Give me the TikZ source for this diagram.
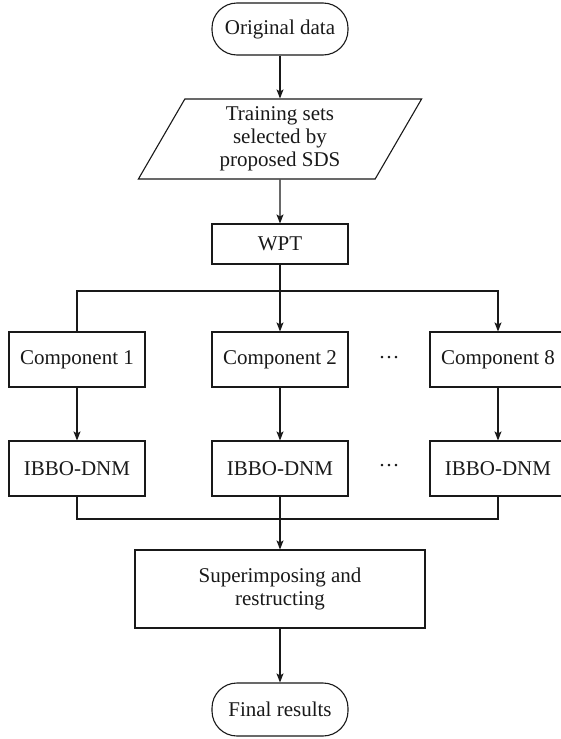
\documentclass[tikz,border=0pt]{standalone}
\usepackage{fontspec}
\setmainfont{Liberation Serif}
\usetikzlibrary{arrows.meta,positioning,shapes.geometric}

\begin{document}
\begin{tikzpicture}[x=1pt,y=1pt,
   color=black!90,line width=1.1pt,
   every node/.style={font=\fontsize{21}{23}\selectfont},
   sec/.style={draw,rectangle,minimum width=136pt,minimum height=55pt,
               align=center,inner sep=2pt},
   term/.style={sec,rounded corners=25pt,minimum height=52pt},
   io/.style={draw,trapezium,trapezium left angle=66,trapezium right angle=114,
              trapezium stretches=true,minimum width=284pt,minimum height=80pt,
              align=center,inner sep=2pt},
   arr/.style={-{Stealth[length=9pt,width=7pt,inset=2pt]}}
]
\useasboundingbox (0,0) rectangle (561,-739);

% Top: input and decomposition
\node[term] (OD) at (280,-29) {Original data};
\node[io] (TS) at (280,-139) {Training sets\\selected by\\proposed SDS};
\node[sec,minimum height=40pt] (WPT) at (280,-244) {WPT};

\draw[arr] (OD) -- (TS);
\draw[arr] (TS) -- (WPT);

% Components
\node[sec] (C1) at (77,-359.5) {Component 1};
\node[sec] (C2) at (280,-359.5) {Component 2};
\node[sec] (C8) at (498,-359.5) {Component 8};
\node (D1) at (389,-360) {···};
\coordinate (B) at (280,-291);

\draw[arr] (WPT) -- (C2);
\draw[arr] (C1.north) |- (B) -| (C8.north);

% Forecasting models
\node[sec] (IB1) at (77,-468.5) {IBBO-DNM};
\node[sec] (IB2) at (280,-468.5) {IBBO-DNM};
\node[sec] (IB8) at (498,-468.5) {IBBO-DNM};
\node (D2) at (389,-468) {···};

\draw[arr] (C1) -- (IB1);
\draw[arr] (C2) -- (IB2);
\draw[arr] (C8) -- (IB8);

% Reconstruction
\node[sec,minimum width=290pt,minimum height=78pt] (SR) at (280,-589)
   {Superimposing and\\restructing};
\node[term,minimum height=53pt] (FR) at (280,-709.5) {Final results};
\coordinate (M) at (280,-519);

\draw (IB1.south) |- (M) -| (IB8.south);
\draw[arr] (IB2) -- (SR);
\draw[arr] (SR) -- (FR);

\end{tikzpicture}
\end{document}
